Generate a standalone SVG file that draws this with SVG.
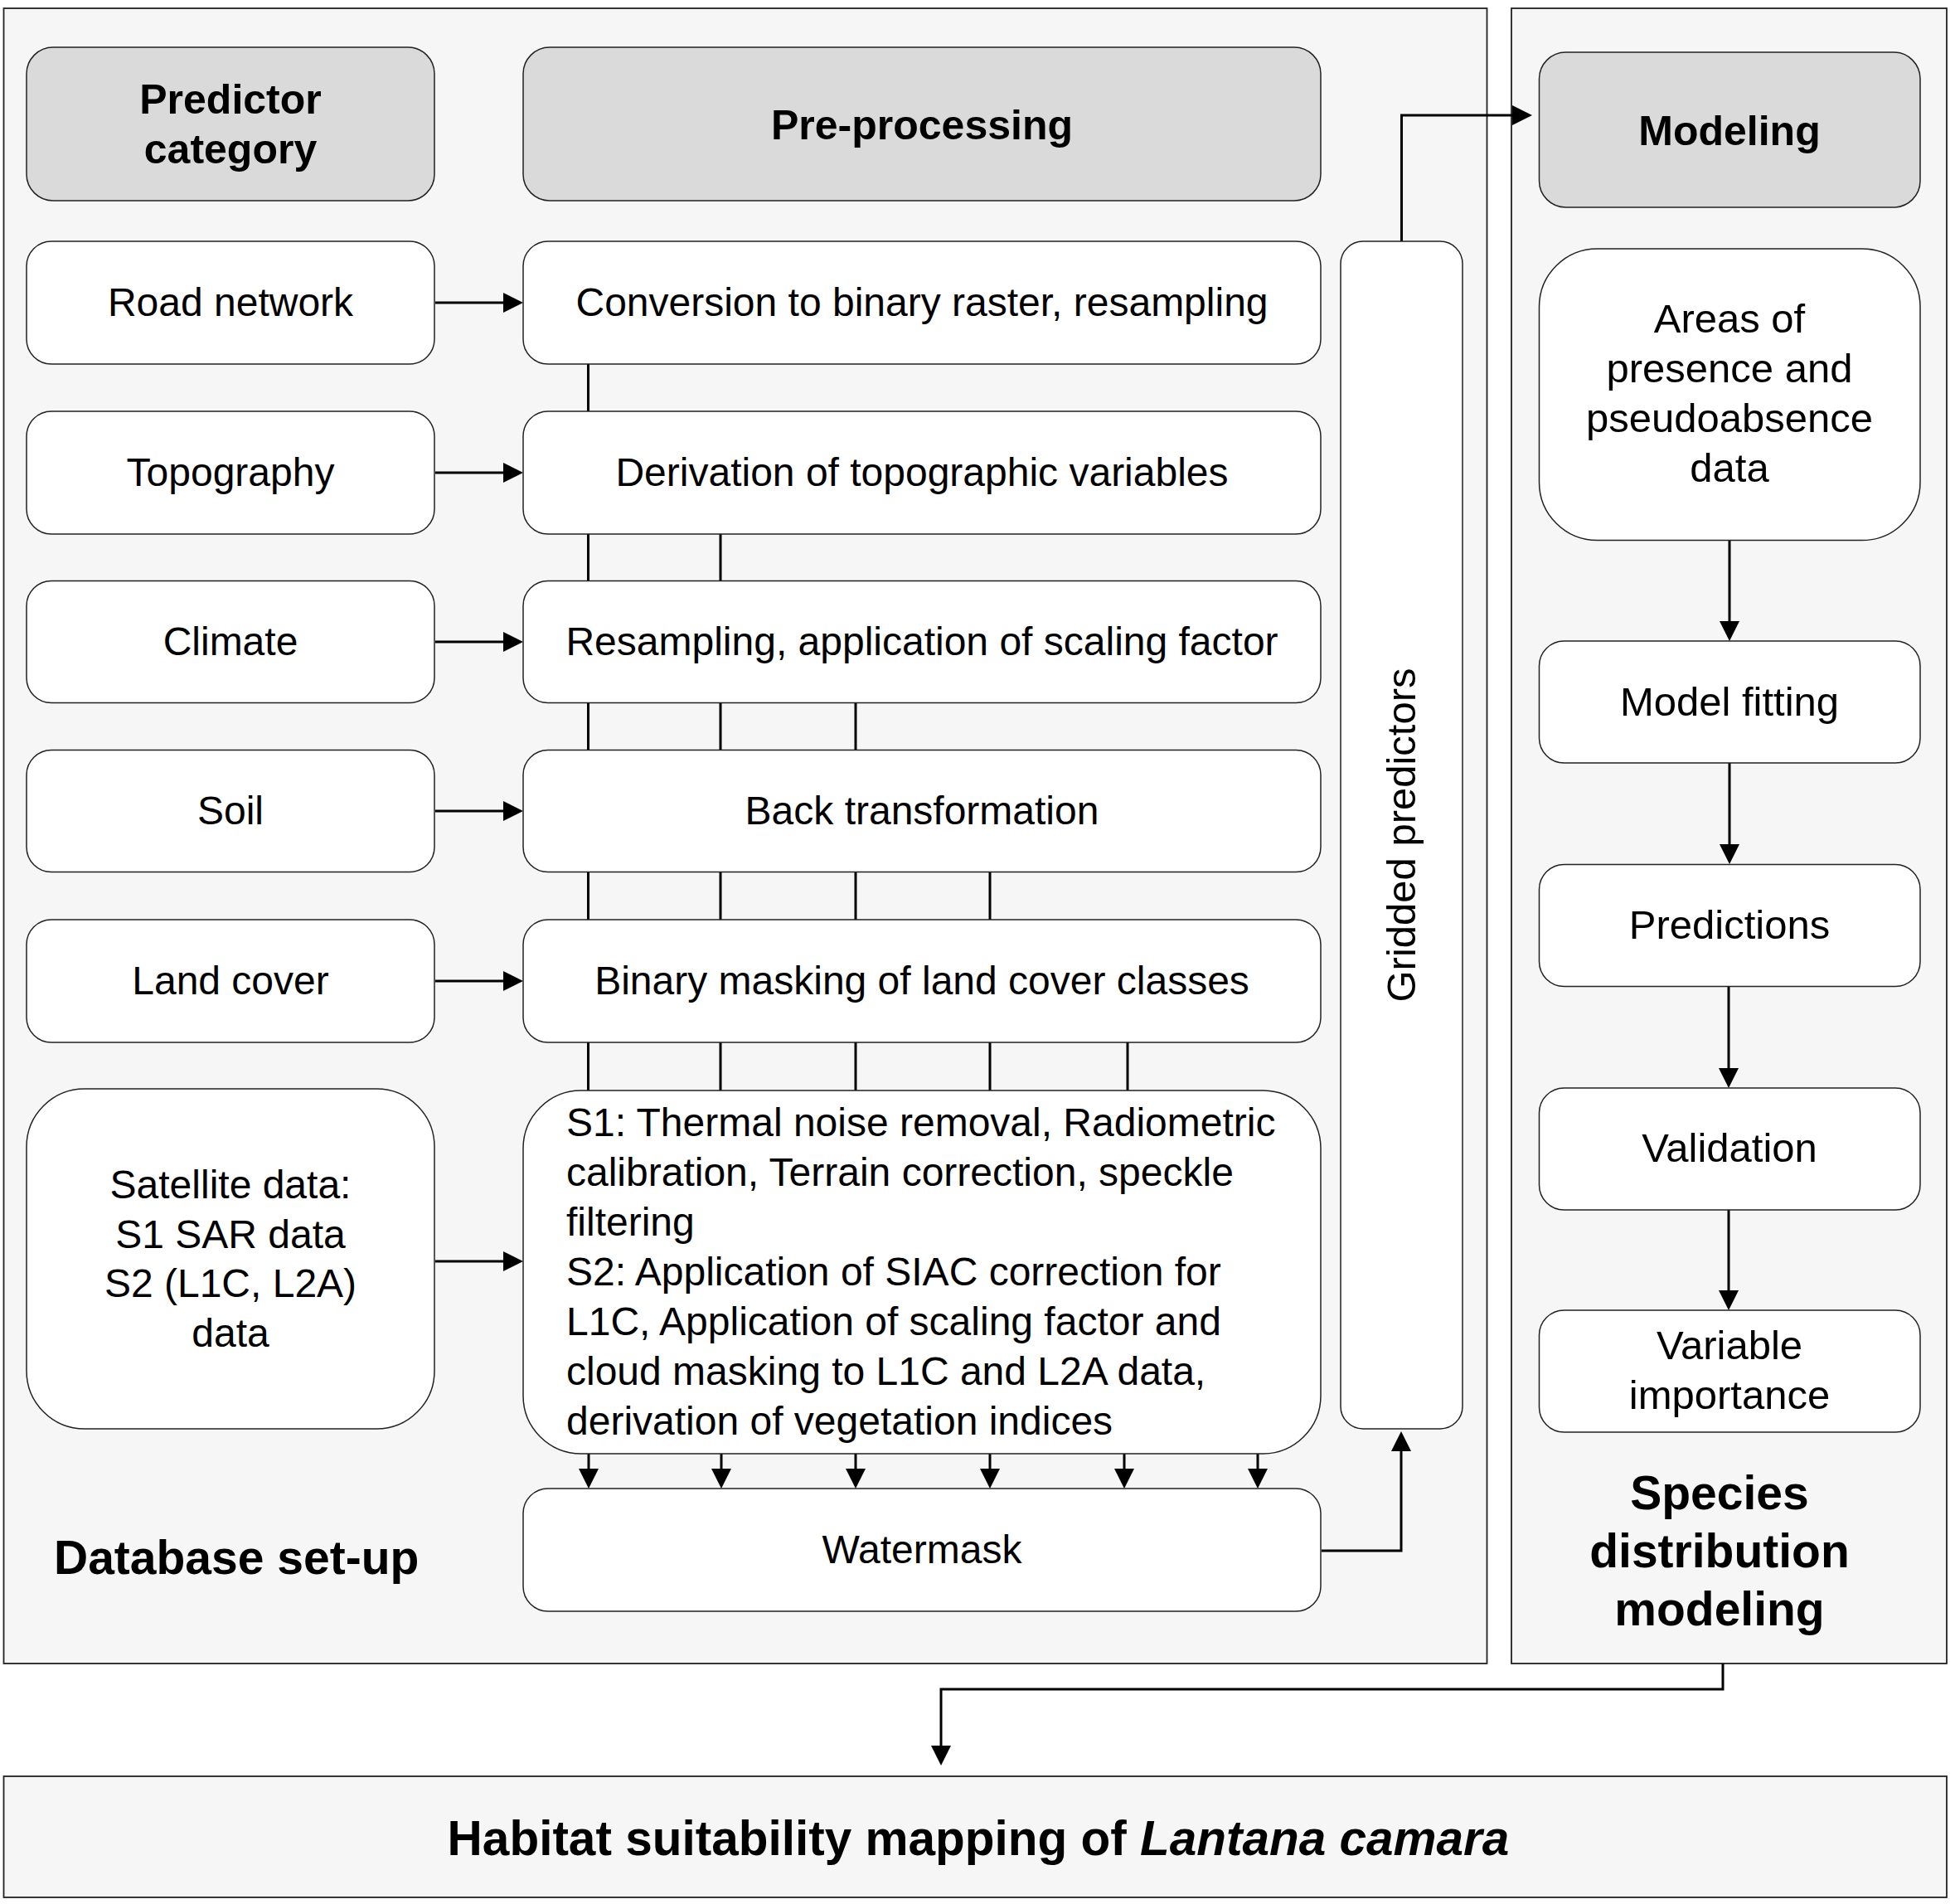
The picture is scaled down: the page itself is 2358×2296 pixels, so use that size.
<svg xmlns="http://www.w3.org/2000/svg" width="2358" height="2296" viewBox="0 0 2358 2296">
<defs>
<style>
.cont{fill:#f6f6f6;stroke:#222;stroke-width:1.8}
.hdr{fill:#dadada;stroke:#222;stroke-width:1.5}
.box{fill:#ffffff;stroke:#222;stroke-width:1.5}
.t{font-family:"Liberation Sans",Arial,sans-serif;font-size:48px;fill:#000;text-anchor:middle}
.tr{font-family:"Liberation Sans",Arial,sans-serif;font-size:49px;fill:#000;text-anchor:middle}
.tl{font-family:"Liberation Sans",Arial,sans-serif;font-size:48px;fill:#000;text-anchor:start}
.h{font-family:"Liberation Sans",Arial,sans-serif;font-size:50px;font-weight:bold;fill:#000;text-anchor:middle}
.big{font-family:"Liberation Sans",Arial,sans-serif;font-size:57px;font-weight:bold;fill:#000}
.title{font-family:"Liberation Sans",Arial,sans-serif;font-size:58.5px;font-weight:bold;fill:#000;text-anchor:middle}
.ln{fill:none;stroke:#000;stroke-width:3}
.arr{fill:none;stroke:#000;stroke-width:3;marker-end:url(#ah)}
</style>
<marker id="ah" viewBox="0 0 24 24" refX="14" refY="12" markerWidth="24" markerHeight="24" markerUnits="userSpaceOnUse" orient="auto">
<path d="M0,0 L24,12 L0,24 Z" fill="#000"/>
</marker>
</defs>
<rect x="0" y="0" width="2358" height="2296" fill="#ffffff"/>

<g id="container-database">
<rect class="cont" x="4.5" y="10" width="1789" height="1996"/>
<text class="big" x="65" y="1898" text-anchor="start">Database set-up</text>
</g>
<g id="container-sdm">
<rect class="cont" x="1823" y="10" width="525" height="1996"/>
<text class="big" x="2074" y="1820" text-anchor="middle">Species</text>
<text class="big" x="2074" y="1890" text-anchor="middle">distribution</text>
<text class="big" x="2074" y="1960" text-anchor="middle">modeling</text>
</g>
<g id="habitat">
<rect class="cont" x="4.5" y="2142" width="2343.5" height="146"/>
<text class="title" x="1180" y="2237">Habitat suitability mapping of <tspan font-style="italic">Lantana camara</tspan></text>
</g>

<g id="connectors">
<line class="arr" x1="525" y1="365" x2="621" y2="365"/>
<line class="arr" x1="525" y1="570" x2="621" y2="570"/>
<line class="arr" x1="525" y1="774" x2="621" y2="774"/>
<line class="arr" x1="525" y1="978" x2="621" y2="978"/>
<line class="arr" x1="525" y1="1183" x2="621" y2="1183"/>
<line class="arr" x1="525" y1="1521" x2="621" y2="1521"/>

<line class="ln" x1="709.5" y1="439" x2="709.5" y2="496"/>
<line class="ln" x1="709.5" y1="644" x2="709.5" y2="700.5"/>
<line class="ln" x1="869" y1="644" x2="869" y2="700.5"/>
<line class="ln" x1="709.5" y1="847.5" x2="709.5" y2="904.5"/>
<line class="ln" x1="869" y1="847.5" x2="869" y2="904.5"/>
<line class="ln" x1="1032" y1="847.5" x2="1032" y2="904.5"/>
<line class="ln" x1="709.5" y1="1051.5" x2="709.5" y2="1109"/>
<line class="ln" x1="869" y1="1051.5" x2="869" y2="1109"/>
<line class="ln" x1="1032" y1="1051.5" x2="1032" y2="1109"/>
<line class="ln" x1="1194" y1="1051.5" x2="1194" y2="1109"/>
<line class="ln" x1="709.5" y1="1257" x2="709.5" y2="1315"/>
<line class="ln" x1="869" y1="1257" x2="869" y2="1315"/>
<line class="ln" x1="1032" y1="1257" x2="1032" y2="1315"/>
<line class="ln" x1="1194" y1="1257" x2="1194" y2="1315"/>
<line class="ln" x1="1360" y1="1257" x2="1360" y2="1315"/>

<line class="arr" x1="710" y1="1753" x2="710" y2="1785"/>
<line class="arr" x1="870" y1="1753" x2="870" y2="1785"/>
<line class="arr" x1="1032" y1="1753" x2="1032" y2="1785"/>
<line class="arr" x1="1194" y1="1753" x2="1194" y2="1785"/>
<line class="arr" x1="1356" y1="1753" x2="1356" y2="1785"/>
<line class="arr" x1="1517" y1="1753" x2="1517" y2="1785"/>

<path class="arr" d="M1594,1870 H1690 V1736"/>
<path class="arr" d="M1690.5,291 V139 H1838"/>

<line class="arr" x1="2086" y1="651.5" x2="2086" y2="763"/>
<line class="arr" x1="2086" y1="920" x2="2086" y2="1032"/>
<line class="arr" x1="2085" y1="1189.5" x2="2085" y2="1302"/>
<line class="arr" x1="2085" y1="1459" x2="2085" y2="1570"/>

<path class="arr" d="M2078,2006 V2037 H1135 V2119"/>
</g>

<g id="hdr-predictor">
<rect class="hdr" x="32" y="57" width="492" height="185" rx="32"/>
<text class="h" x="278" y="137">Predictor</text>
<text class="h" x="278" y="197">category</text>
</g>
<g id="hdr-preprocessing">
<rect class="hdr" x="631" y="57" width="962" height="185" rx="32"/>
<text class="h" x="1112" y="168">Pre-processing</text>
</g>
<g id="hdr-modeling">
<rect class="hdr" x="1856.5" y="63" width="459.5" height="187" rx="32"/>
<text class="h" x="2086" y="175">Modeling</text>
</g>

<g id="road-network">
<rect class="box" x="32" y="291" width="492" height="148" rx="30"/>
<text class="t" x="278" y="381">Road network</text>
</g>
<g id="conversion">
<rect class="box" x="631" y="291" width="962" height="148" rx="30"/>
<text class="t" x="1112" y="381">Conversion to binary raster, resampling</text>
</g>
<g id="topography">
<rect class="box" x="32" y="496" width="492" height="148" rx="30"/>
<text class="t" x="278" y="586">Topography</text>
</g>
<g id="derivation">
<rect class="box" x="631" y="496" width="962" height="148" rx="30"/>
<text class="t" x="1112" y="586">Derivation of topographic variables</text>
</g>
<g id="climate">
<rect class="box" x="32" y="700.5" width="492" height="147" rx="30"/>
<text class="t" x="278" y="790">Climate</text>
</g>
<g id="resampling">
<rect class="box" x="631" y="700.5" width="962" height="147" rx="30"/>
<text class="t" x="1112" y="790">Resampling, application of scaling factor</text>
</g>
<g id="soil">
<rect class="box" x="32" y="904.5" width="492" height="147" rx="30"/>
<text class="t" x="278" y="994">Soil</text>
</g>
<g id="back-transformation">
<rect class="box" x="631" y="904.5" width="962" height="147" rx="30"/>
<text class="t" x="1112" y="994">Back transformation</text>
</g>
<g id="land-cover">
<rect class="box" x="32" y="1109" width="492" height="148" rx="30"/>
<text class="t" x="278" y="1199">Land cover</text>
</g>
<g id="binary-masking">
<rect class="box" x="631" y="1109" width="962" height="148" rx="30"/>
<text class="t" x="1112" y="1199">Binary masking of land cover classes</text>
</g>
<g id="satellite">
<rect class="box" x="32" y="1313" width="492" height="410" rx="70"/>
<text class="t" x="278" y="1445">Satellite data:</text>
<text class="t" x="278" y="1505">S1 SAR data</text>
<text class="t" x="278" y="1564">S2 (L1C, L2A)</text>
<text class="t" x="278" y="1624">data</text>
</g>
<g id="s1s2-processing">
<rect class="box" x="631" y="1315" width="962" height="438" rx="70"/>
<text class="tl" x="683" y="1370">S1: Thermal noise removal, Radiometric</text>
<text class="tl" x="683" y="1430">calibration, Terrain correction, speckle</text>
<text class="tl" x="683" y="1490">filtering</text>
<text class="tl" x="683" y="1550">S2: Application of SIAC correction for</text>
<text class="tl" x="683" y="1610">L1C, Application of scaling factor and</text>
<text class="tl" x="683" y="1670">cloud masking to L1C and L2A data,</text>
<text class="tl" x="683" y="1730">derivation of vegetation indices</text>
</g>
<g id="watermask">
<rect class="box" x="631" y="1795" width="962" height="148" rx="30"/>
<text class="t" x="1112" y="1885">Watermask</text>
</g>
<g id="gridded-predictors">
<rect class="box" x="1617" y="291" width="147" height="1432" rx="27"/>
<text class="tr" transform="translate(1707,1007) rotate(-90)" x="0" y="0">Gridded predictors</text>
</g>

<g id="areas">
<rect class="box" x="1856.5" y="300" width="459.5" height="351.5" rx="70"/>
<text class="tr" x="2086" y="401">Areas of</text>
<text class="tr" x="2086" y="461">presence and</text>
<text class="tr" x="2086" y="521">pseudoabsence</text>
<text class="tr" x="2086" y="581">data</text>
</g>
<g id="model-fitting">
<rect class="box" x="1856.5" y="773" width="459.5" height="147" rx="30"/>
<text class="tr" x="2086" y="863">Model fitting</text>
</g>
<g id="predictions">
<rect class="box" x="1856.5" y="1042.5" width="459.5" height="147" rx="30"/>
<text class="tr" x="2086" y="1132">Predictions</text>
</g>
<g id="validation">
<rect class="box" x="1856.5" y="1312" width="459.5" height="147" rx="30"/>
<text class="tr" x="2086" y="1401">Validation</text>
</g>
<g id="variable-importance">
<rect class="box" x="1856.5" y="1580" width="459.5" height="147" rx="30"/>
<text class="tr" x="2086" y="1639">Variable</text>
<text class="tr" x="2086" y="1699">importance</text>
</g>
</svg>
